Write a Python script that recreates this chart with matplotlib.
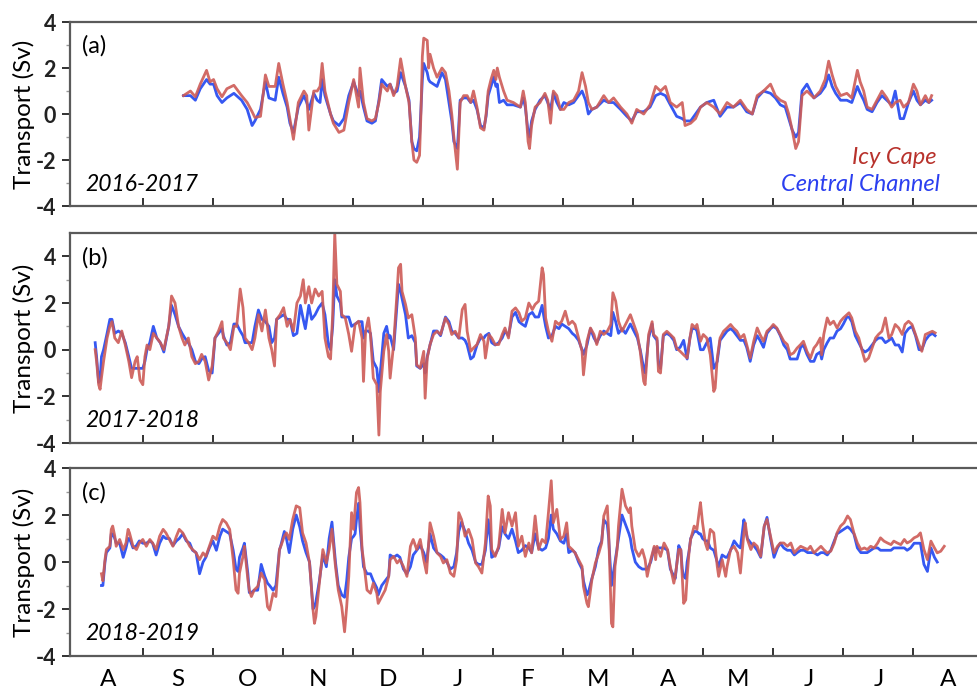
import matplotlib
import numpy as np

matplotlib.use('Agg')
import matplotlib.pyplot as plt

plt.rcParams['font.family'] = ['Lato', 'DejaVu Sans']
plt.rcParams['axes.unicode_minus'] = False

# x positions are in months since 1 Aug (0 = start of Aug, 12 = start of next Aug)
month_labels = ['A', 'S', 'O', 'N', 'D', 'J', 'F', 'M', 'A', 'M', 'J', 'J', 'A']
years = ['2016-2017', '2017-2018', '2018-2019']
panel_tags = ['(a)', '(b)', '(c)']

# ---- 2016-2017 ----
t_a = [1.58, 1.68, 1.75, 1.82, 1.91, 1.96, 2.01, 2.06, 2.13, 2.20, 2.30, 2.41, 2.49, 2.56, 2.60,
       2.68, 2.75, 2.80, 2.89, 2.94, 3.00, 3.06, 3.10, 3.15, 3.22, 3.30, 3.34, 3.37, 3.44, 3.49,
       3.53, 3.56, 3.60, 3.68, 3.72, 3.80, 3.87, 3.94, 4.01, 4.08, 4.10, 4.15, 4.20, 4.27, 4.32,
       4.37, 4.41, 4.49, 4.53, 4.58, 4.63, 4.68, 4.75, 4.80, 4.84, 4.87, 4.91, 4.95, 4.97, 4.99,
       5.01, 5.06, 5.08, 5.10, 5.15, 5.20, 5.27, 5.32, 5.37, 5.41, 5.44, 5.49, 5.51, 5.53, 5.58,
       5.63, 5.68, 5.72, 5.77, 5.82, 5.87, 5.90, 5.93, 5.97, 6.01, 6.04, 6.06, 6.09, 6.15, 6.20,
       6.29, 6.39, 6.43, 6.46, 6.50, 6.52, 6.55, 6.60, 6.67, 6.74, 6.78, 6.82, 6.86, 6.91, 6.96,
       7.01, 7.08, 7.15, 7.22, 7.27, 7.32, 7.36, 7.41, 7.48, 7.58, 7.65, 7.72, 7.82, 7.91, 7.98,
       8.05, 8.15, 8.24, 8.32, 8.39, 8.46, 8.53, 8.62, 8.70, 8.74, 8.82, 8.89, 8.96, 9.05, 9.15,
       9.24, 9.34, 9.43, 9.53, 9.62, 9.70, 9.77, 9.86, 9.96, 10.03, 10.10, 10.17, 10.22, 10.27, 10.32,
       10.36, 10.39, 10.41, 10.48, 10.58, 10.67, 10.74, 10.79, 10.84, 10.89, 10.96, 11.05, 11.12, 11.20, 11.24,
       11.29, 11.34, 11.41, 11.48, 11.55, 11.62, 11.69, 11.74, 11.81, 11.86, 11.93, 12.00, 12.05, 12.10, 12.17,
       12.22, 12.26]
icy_a = [0.8, 1.0, 0.75, 1.3, 1.9, 1.4, 1.5, 1.1, 0.75, 1.1, 1.25, 0.8, 0.5, 0.1, -0.15,
         -0.1, 1.7, 1.2, 1.2, 2.2, 1.3, 0.5, -0.2, -1.1, 0.5, 1.0, 0.8, -0.7, 1.0, 1.0,
         1.2, 2.2, 1.0, 0.0, -0.4, -0.8, -0.7, 0.5, 1.5, 0.3, 2.0, 0.5, -0.2, -0.3, -0.2,
         0.5, 1.3, 1.0, 1.3, 0.8, 1.2, 2.4, 1.2, 0.5, -1.2, -2.0, -2.1, -1.8, 0.0, 2.5,
         3.3, 3.2, 2.0, 2.6, 2.0, 1.6, 2.0, 1.8, 1.0, 0.0, -1.0, -2.4, -1.0, 0.5, 0.8,
         0.8, 0.5, 1.0, 0.3, -0.6, -0.7, 0.0, 1.0, 1.5, 1.9, 1.5, 2.0, 1.6, 1.0, 0.6,
         0.5, 0.3, 1.0, 0.5, -1.2, -1.5, -0.5, 0.3, 0.5, 0.9, 0.6, -0.4, 1.0, 0.8, 0.2,
         0.2, 0.5, 0.6, 1.0, 1.8, 1.2, 0.5, 0.2, 0.3, 0.8, 0.5, 0.7, 0.3, 0.0, -0.4,
         0.2, 0.0, 0.4, 1.2, 1.0, 1.2, 0.5, 0.3, 0.5, -0.5, -0.4, -0.2, 0.3, 0.5, 0.3,
         0.0, 0.5, 0.3, 0.6, 0.2, 0.0, 0.8, 1.0, 1.3, 0.8, 0.6, 0.5, 0.0, -0.7, -1.5,
         -1.2, 0.0, 0.8, 1.0, 0.7, 1.0, 1.5, 2.3, 1.7, 1.2, 0.8, 0.9, 0.7, 1.9, 1.4,
         1.0, 0.3, 0.2, 0.6, 1.0, 0.7, 0.3, 0.5, 0.6, 0.3, 0.5, 1.3, 1.0, 0.4, 0.8,
         0.5, 0.8]
central_a = [0.8, 0.8, 0.6, 1.1, 1.5, 1.3, 1.3, 0.8, 0.5, 0.7, 0.9, 0.6, 0.2, -0.5, -0.3,
             0.2, 1.4, 0.7, 0.6, 1.6, 0.9, 0.3, -0.4, -0.8, 0.3, 0.8, 0.5, 0.2, 0.9, 0.6,
             0.5, 1.5, 0.8, 0.0, -0.3, -0.5, -0.2, 0.8, 1.4, 0.8, 1.0, 0.3, -0.3, -0.4, -0.3,
             0.6, 1.5, 1.2, 1.3, 0.9, 1.0, 1.8, 1.2, 0.6, -1.2, -1.5, -1.6, -1.0, 0.2, 1.5,
             2.2, 1.8, 1.5, 1.4, 1.3, 1.2, 1.8, 1.5, 0.5, -0.3, -1.2, -1.5, -0.5, 0.6, 0.7,
             0.7, 0.5, 0.6, 0.2, -0.5, -0.6, -0.1, 0.8, 1.2, 1.6, 1.2, 1.3, 0.5, 0.6, 0.4,
             0.4, 0.3, 0.7, 0.3, -0.8, -1.0, -0.3, 0.2, 0.6, 0.8, 0.5, 0.2, 0.9, 0.5, 0.2,
             0.5, 0.4, 0.5, 0.8, 1.0, 0.6, 0.0, 0.2, 0.3, 0.6, 0.5, 0.5, 0.2, -0.1, -0.3,
             0.1, 0.1, 0.3, 0.8, 0.9, 0.8, 0.4, -0.1, -0.2, -0.3, -0.3, 0.0, 0.3, 0.5, 0.6,
             -0.1, 0.3, 0.3, 0.5, 0.1, 0.0, 0.7, 1.0, 0.9, 0.7, 0.4, 0.3, -0.2, -0.7, -1.0,
             -0.8, 0.3, 1.0, 1.3, 0.7, 0.9, 1.2, 1.7, 1.2, 0.9, 0.6, 0.6, 0.5, 1.2, 0.9,
             0.6, 0.2, 0.1, 0.5, 0.8, 0.6, 0.4, 1.0, -0.2, -0.2, 0.5, 1.0, 0.6, 0.4, 0.6,
             0.5, 0.6]

# ---- 2017-2018 ----
t_b = [0.32, 0.34, 0.37, 0.39, 0.41, 0.44, 0.49, 0.53, 0.56, 0.60, 0.65, 0.70, 0.75, 0.80, 0.84,
       0.89, 0.92, 0.96, 1.00, 1.03, 1.06, 1.10, 1.15, 1.20, 1.25, 1.30, 1.37, 1.41, 1.46, 1.51,
       1.56, 1.60, 1.65, 1.70, 1.75, 1.80, 1.84, 1.89, 1.94, 1.99, 2.03, 2.08, 2.13, 2.15, 2.20,
       2.25, 2.30, 2.34, 2.39, 2.43, 2.46, 2.51, 2.56, 2.60, 2.65, 2.70, 2.75, 2.80, 2.84, 2.88,
       2.91, 2.96, 3.01, 3.06, 3.10, 3.15, 3.20, 3.25, 3.29, 3.32, 3.37, 3.41, 3.46, 3.51, 3.56,
       3.60, 3.65, 3.68, 3.71, 3.74, 3.77, 3.82, 3.84, 3.89, 3.94, 3.98, 4.03, 4.08, 4.13, 4.15,
       4.18, 4.22, 4.25, 4.29, 4.34, 4.37, 4.39, 4.44, 4.48, 4.51, 4.53, 4.58, 4.63, 4.65, 4.68,
       4.70, 4.75, 4.79, 4.84, 4.89, 4.91, 4.96, 5.01, 5.03, 5.06, 5.10, 5.15, 5.20, 5.25, 5.32,
       5.37, 5.41, 5.46, 5.51, 5.56, 5.60, 5.63, 5.68, 5.72, 5.77, 5.82, 5.87, 5.89, 5.94, 5.98,
       6.03, 6.08, 6.13, 6.17, 6.22, 6.27, 6.32, 6.37, 6.41, 6.46, 6.51, 6.56, 6.60, 6.65, 6.70,
       6.72, 6.75, 6.79, 6.84, 6.89, 6.94, 6.98, 7.03, 7.08, 7.13, 7.17, 7.22, 7.27, 7.29, 7.34,
       7.39, 7.44, 7.48, 7.53, 7.58, 7.63, 7.68, 7.71, 7.75, 7.79, 7.84, 7.89, 7.96, 8.01, 8.06,
       8.10, 8.15, 8.17, 8.22, 8.27, 8.29, 8.34, 8.36, 8.39, 8.43, 8.48, 8.53, 8.58, 8.62, 8.67,
       8.72, 8.77, 8.81, 8.84, 8.89, 8.91, 8.96, 9.00, 9.05, 9.10, 9.15, 9.17, 9.20, 9.24, 9.29,
       9.34, 9.39, 9.43, 9.48, 9.53, 9.58, 9.62, 9.67, 9.72, 9.77, 9.81, 9.86, 9.91, 9.96, 10.00,
       10.05, 10.10, 10.15, 10.20, 10.24, 10.29, 10.34, 10.39, 10.43, 10.48, 10.53, 10.58, 10.62, 10.67, 10.69,
       10.72, 10.77, 10.81, 10.86, 10.91, 10.96, 11.00, 11.05, 11.08, 11.12, 11.17, 11.22, 11.27, 11.31, 11.36,
       11.41, 11.46, 11.50, 11.55, 11.60, 11.65, 11.69, 11.74, 11.79, 11.84, 11.88, 11.93, 11.98, 12.03, 12.08,
       12.12, 12.17, 12.22, 12.27, 12.31]
icy_b = [0.0, -0.5, -1.5, -1.7, -1.2, -0.5, 0.5, 1.0, 1.2, 0.5, 0.3, 0.8, 0.2, -0.5, -1.2,
         -0.5, -0.3, -1.3, -1.5, -0.3, 0.2, 0.0, 0.7, 0.5, 0.3, 0.0, 1.0, 2.3, 2.0, 1.0,
         0.5, 0.2, 0.5, -0.3, -0.6, -0.5, -0.2, -0.5, -1.3, -0.7, 0.5, 0.8, 1.2, 0.5, 0.3,
         0.0, 1.0, 1.0, 2.6, 1.8, 0.5, 0.3, 0.0, 0.5, 1.5, 0.8, 1.7, 0.5, 0.0, -0.7,
         1.3, 1.5, 1.8, 1.0, 1.3, 0.8, 2.0, 2.3, 3.0, 2.0, 2.7, 2.0, 2.6, 2.3, 2.5,
         0.5, -0.3, -0.4, 1.5, 5.0, 2.8, 2.5, 1.5, 1.36, 0.65, -0.07, 1.08, 1.22, 0.5, -1.36,
         0.79, 1.36, 0.65, -1.22, -1.5, -3.66, -1.79, -0.07, 0.65, -0.07, -1.22, 0.22, 2.5, 3.51, 3.66,
         2.5, 1.94, 1.36, 1.5, 0.5, -0.65, -0.79, -0.07, -2.08, -0.36, 0.22, 0.65, 0.79, 0.65, 1.36,
         1.08, 0.65, 0.79, 0.5, 1.72, 1.94, 0.79, -0.07, 0.07, 0.22, 0.65, 0.36, -0.36, 0.65, 0.5,
         0.22, 0.22, 0.65, 0.93, 0.5, 1.65, 1.79, 1.58, 1.22, 1.36, 2.0, 1.72, 1.94, 2.08, 3.51,
         3.23, 1.36, 0.79, 0.36, 1.22, 1.08, 1.22, 1.65, 1.08, 1.22, 1.08, 0.5, -0.07, -1.08, 0.36,
         0.93, 0.65, 0.22, 0.79, 0.65, 0.79, 1.08, 2.44, 2.08, 1.22, 0.79, 1.08, 1.5, 1.08, 0.65,
         -0.07, -1.36, -1.5, 0.65, 1.2, 0.65, 0.5, -0.93, -1.0, 0.65, 0.79, 0.65, 0.5, 0.07, -0.07,
         -0.22, -0.36, 0.5, 1.08, 0.93, 1.08, 0.36, 0.65, 0.5, -0.22, -1.79, -1.65, -0.36, 0.5, 0.79,
         0.93, 1.08, 0.93, 0.79, 0.5, 0.65, 0.22, -0.36, 0.36, 0.93, 0.65, 0.36, 0.79, 0.93, 1.08,
         0.93, 0.65, 0.36, 0.22, -0.22, -0.14, 0.07, 0.22, 0.36, -0.07, -0.36, 0.07, 0.22, 0.5, -0.22,
         0.65, 1.36, 1.08, 1.22, 0.93, 1.22, 1.36, 1.5, 1.58, 1.36, 0.79, 0.5, -0.07, -0.5, -0.36,
         0.07, 0.5, 0.65, 0.79, 1.36, 0.5, 0.65, 1.08, 0.93, 0.65, 1.08, 1.22, 1.08, 0.65, 0.22,
         -0.07, 0.65, 0.72, 0.79, 0.72]
central_b = [0.3, -0.3, -1.4, -1.3, -0.3, 0.0, 0.7, 1.3, 1.3, 0.7, 0.8, 0.7, 0.3, -0.3, -0.8,
             -0.8, -0.8, -0.8, -0.8, -0.5, 0.0, 0.3, 1.0, 0.5, 0.3, -0.1, 1.0, 1.9, 1.5, 1.0,
             0.7, 0.5, 0.3, 0.0, -0.5, -0.6, -0.4, -0.3, -0.9, -1.0, 0.5, 0.7, 0.9, 0.6, 0.2,
             0.3, 1.1, 1.1, 0.8, 0.6, 0.3, 0.3, 0.3, 1.0, 1.7, 1.3, 1.2, 1.0, 0.3, 0.5,
             1.3, 1.4, 1.5, 1.3, 1.3, 0.6, 0.7, 1.9, 1.3, 0.9, 1.9, 1.3, 1.5, 1.8, 2.0,
             1.5, 0.2, 0.0, 1.0, 3.0, 2.3, 2.0, 1.4, 1.4, 1.4, 1.0, 1.1, 1.2, 1.2, 0.5,
             0.8, 0.8, 0.7, -0.5, -0.8, -1.8, -1.0, 0.7, 1.0, 0.5, 0.6, 0.0, 2.0, 2.8, 2.5,
             2.2, 1.5, 0.5, 0.6, 0.3, -0.7, -0.8, -0.6, -1.0, -0.3, 0.2, 0.8, 0.8, 0.6, 1.4,
             1.2, 0.8, 0.7, 0.5, 0.5, 0.4, 0.2, -0.4, -0.3, 0.2, 0.5, 0.5, 0.6, 0.7, 0.3,
             0.2, 0.3, 0.5, 0.8, 0.6, 1.4, 1.6, 1.2, 1.1, 1.0, 1.5, 1.6, 1.4, 1.4, 1.9,
             1.5, 1.0, 0.5, 0.6, 1.0, 0.9, 1.1, 1.0, 0.9, 0.7, 0.6, 0.4, 0.0, -0.2, 0.2,
             0.9, 0.5, 0.3, 0.6, 0.8, 0.7, 0.6, 1.6, 1.2, 0.7, 0.9, 0.7, 1.1, 0.8, 0.5,
             0.0, -0.8, -1.0, 0.5, 1.1, 0.6, 0.4, -0.6, -0.8, 0.6, 0.7, 0.6, 0.4, 0.0, 0.1,
             0.4, -0.4, 0.5, 0.9, 0.9, 0.8, 0.0, 0.0, 0.3, 0.5, -0.8, -0.7, -0.5, 0.4, 0.6,
             0.8, 0.9, 0.8, 0.6, 0.4, 0.4, 0.1, -0.5, 0.2, 0.6, 0.4, 0.1, 0.7, 0.9, 1.0,
             0.9, 0.6, 0.2, 0.0, -0.4, -0.4, -0.4, 0.1, 0.2, -0.2, -0.5, -0.5, -0.2, -0.1, -0.4,
             0.0, 0.3, 0.5, 0.5, 0.8, 0.9, 1.1, 1.4, 1.4, 1.2, 0.6, 0.3, 0.0, -0.1, 0.0,
             0.2, 0.4, 0.5, 0.5, 0.3, 0.4, 0.5, 0.2, 0.2, -0.1, 0.7, 0.9, 1.0, 0.6, 0.0,
             0.0, 0.4, 0.6, 0.7, 0.6]

# ---- 2018-2019 ----
t_c = [0.41, 0.43, 0.46, 0.48, 0.53, 0.55, 0.57, 0.60, 0.62, 0.67, 0.72, 0.76, 0.79, 0.81, 0.86,
       0.91, 0.95, 1.00, 1.05, 1.10, 1.14, 1.19, 1.24, 1.29, 1.33, 1.38, 1.43, 1.48, 1.52, 1.57,
       1.62, 1.67, 1.71, 1.76, 1.81, 1.86, 1.90, 1.95, 2.00, 2.05, 2.10, 2.14, 2.19, 2.24, 2.29,
       2.33, 2.36, 2.38, 2.43, 2.45, 2.50, 2.52, 2.55, 2.59, 2.64, 2.69, 2.74, 2.78, 2.81, 2.86,
       2.90, 2.95, 2.97, 3.02, 3.05, 3.09, 3.14, 3.19, 3.24, 3.28, 3.33, 3.38, 3.43, 3.45, 3.47,
       3.52, 3.57, 3.62, 3.66, 3.70, 3.75, 3.79, 3.84, 3.88, 3.91, 3.94, 3.96, 3.98, 4.01, 4.03,
       4.05, 4.08, 4.10, 4.13, 4.15, 4.20, 4.25, 4.29, 4.34, 4.36, 4.41, 4.46, 4.51, 4.53, 4.58,
       4.63, 4.67, 4.72, 4.77, 4.82, 4.86, 4.91, 4.96, 5.01, 5.05, 5.10, 5.15, 5.20, 5.25, 5.29,
       5.34, 5.39, 5.44, 5.48, 5.51, 5.55, 5.60, 5.65, 5.70, 5.75, 5.79, 5.84, 5.89, 5.93, 5.96,
       5.98, 6.03, 6.08, 6.13, 6.17, 6.22, 6.27, 6.32, 6.36, 6.41, 6.46, 6.51, 6.55, 6.60, 6.65,
       6.70, 6.75, 6.79, 6.83, 6.86, 6.91, 6.96, 7.01, 7.05, 7.08, 7.13, 7.17, 7.22, 7.27, 7.29,
       7.34, 7.36, 7.41, 7.46, 7.51, 7.55, 7.58, 7.63, 7.65, 7.69, 7.71, 7.74, 7.77, 7.79, 7.84,
       7.89, 7.94, 7.96, 7.98, 8.03, 8.08, 8.13, 8.17, 8.20, 8.25, 8.30, 8.32, 8.34, 8.39, 8.44,
       8.49, 8.53, 8.58, 8.60, 8.65, 8.68, 8.70, 8.72, 8.75, 8.77, 8.80, 8.82, 8.87, 8.91, 8.94,
       8.96, 8.99, 9.03, 9.06, 9.10, 9.15, 9.20, 9.22, 9.27, 9.32, 9.34, 9.39, 9.44, 9.49, 9.53,
       9.58, 9.60, 9.63, 9.68, 9.72, 9.77, 9.82, 9.87, 9.91, 9.96, 10.01, 10.06, 10.10, 10.15, 10.20,
       10.25, 10.30, 10.34, 10.39, 10.44, 10.49, 10.53, 10.58, 10.63, 10.68, 10.72, 10.77, 10.82, 10.87, 10.91,
       10.96, 11.01, 11.06, 11.10, 11.15, 11.20, 11.25, 11.30, 11.34, 11.39, 11.44, 11.49, 11.53, 11.58, 11.63,
       11.68, 11.72, 11.77, 11.82, 11.87, 11.91, 11.96, 12.01, 12.06, 12.10, 12.15, 12.20, 12.25, 12.30, 12.34,
       12.39, 12.44]
icy_c = [-0.5, -0.8, 0.1, 0.53, 0.67, 1.39, 1.53, 1.1, 0.67, 0.96, 0.53, 0.81, 1.39, 1.24, 0.67,
         0.53, 0.81, 0.96, 0.67, 0.96, 0.81, 0.53, 1.1, 1.39, 1.24, 0.96, 0.67, 1.1, 1.39, 1.24,
         0.96, 0.67, 0.53, 0.39, 0.1, 0.39, 0.24, 0.67, 1.1, 0.96, 1.53, 1.81, 1.67, 1.39, 0.1,
         -1.19, -1.33, -0.47, 0.24, 0.67, -0.76, -1.19, -1.47, -1.19, -1.04, -0.47, -0.76, -1.9, -2.04, -1.33,
         -1.47, 0.53, 0.67, 1.1, 1.24, 0.96, 1.81, 2.39, 2.31, 1.24, 0.81, -0.04, -2.04, -2.61, -2.33,
         -0.9, 0.53, -0.04, 0.53, 1.4, -0.19, -1.19, -1.9, -2.97, -1.9, -0.61, 0.81, 2.1, 1.39, 2.24,
         2.96, 3.17, 2.53, 0.53, 0.1, -1.19, -1.33, -0.9, -1.33, -1.76, -1.47, -1.19, -0.61, 0.1, 0.24,
         -0.04, 0.1, -0.19, -0.61, 0.67, 0.96, 0.53, 0.96, 0.1, -0.47, 1.67, 1.1, 0.39, 0.24, -0.04,
         0.1, -0.47, -0.61, 0.1, 2.1, 1.81, 1.1, 1.39, 0.96, -0.04, -0.19, -0.47, 0.81, 2.81, 2.39,
         0.53, 0.24, 0.67, 2.24, 1.24, 2.1, 1.53, 2.1, 0.67, 1.1, 0.24, 0.81, 0.39, 1.96, 0.53,
         0.96, 0.81, 2.1, 3.46, 1.67, 2.24, 0.96, 1.1, 1.67, 0.67, 0.53, 0.39, 0.1, -0.19, -1.04,
         -1.76, -1.9, -0.76, -0.04, 0.39, 0.81, 1.96, 2.39, 1.24, -2.61, -2.76, -0.19, 0.53, 1.53, 3.1,
         2.39, 2.1, 2.31, 1.53, 0.53, 0.24, 0.53, 0.1, -0.61, 0.1, 0.67, 0.1, 0.67, 0.24, 0.81,
         0.53, -0.19, -0.9, -0.61, 0.53, 0.53, -0.61, -1.76, -1.61, -0.61, 0.53, 0.96, 1.53, 1.39, 2.1,
         2.53, 1.67, 0.81, 0.53, 1.39, 1.24, -0.19, -0.61, 0.1, -0.61, -0.19, 0.53, 0.67, 0.39, -0.47,
         1.24, 1.67, 0.96, 0.53, 0.81, 0.67, 0.24, 1.53, 1.81, 1.1, 0.39, 0.67, 0.81, 0.81, 0.67,
         0.81, 0.39, 0.53, 0.67, 0.6, 0.53, 0.67, 0.39, 0.53, 0.67, 0.53, 0.39, 0.46, 0.81, 1.24,
         1.53, 1.67, 1.96, 1.81, 1.24, 0.81, 0.53, 0.6, 0.53, 0.67, 0.6, 0.81, 1.03, 0.89, 0.81,
         0.74, 0.89, 0.81, 0.74, 0.96, 0.81, 0.89, 1.03, 1.1, 1.24, 0.53, 0.1, 0.89, 0.6, 0.39,
         0.46, 0.67]
# the Central Channel record stops a few days before the Icy Cape one
central_c = [-1.0, -1.0, 0.0, 0.4, 0.6, 1.2, 1.2, 1.0, 0.8, 0.8, 0.2, 0.6, 1.0, 1.0, 0.6,
             0.7, 0.9, 0.8, 0.8, 0.9, 0.8, 0.3, 0.8, 1.1, 1.0, 1.0, 0.7, 0.9, 1.0, 1.2,
             0.9, 0.8, 0.5, 0.4, -0.5, 0.0, 0.2, 0.6, 0.9, 0.5, 1.1, 1.4, 1.3, 1.2, 0.5,
             -0.3, -0.4, 0.2, 0.6, 0.8, -0.5, -1.3, -1.3, -1.2, -1.2, -0.1, -0.6, -0.9, -1.0, -1.2,
             -1.0, 0.5, 0.7, 1.3, 1.0, 0.4, 1.4, 2.0, 1.5, 0.9, 0.4, 0.0, -2.0, -1.9, -1.7,
             -0.8, 0.3, -0.2, 1.0, 1.7, 0.0, -1.0, -1.4, -1.5, -0.8, 0.2, 0.6, 1.0, 1.1, 1.2,
             1.8, 2.5, 1.5, 0.5, -0.2, -0.5, -0.5, -0.8, -1.1, -1.4, -1.0, -0.8, -0.6, 0.3, 0.2,
             0.3, 0.2, -0.3, -0.5, -0.2, 0.3, 0.5, 0.7, 0.4, 0.0, 1.2, 0.6, 0.4, 0.3, 0.2,
             0.0, -0.3, -0.2, 0.4, 1.3, 1.7, 1.3, 0.8, 0.5, 0.0, -0.1, -0.1, 0.5, 1.8, 1.0,
             0.2, 0.3, 0.6, 1.5, 1.2, 1.0, 1.4, 0.9, 0.4, 0.5, 0.7, 0.6, 0.4, 1.2, 0.6,
             0.5, 0.6, 1.0, 2.0, 1.4, 1.2, 0.9, 0.8, 1.2, 0.4, 0.5, 0.4, 0.0, -0.3, -0.8,
             -1.4, -1.3, -0.7, -0.2, 0.6, 0.9, 1.8, 1.6, 1.0, -1.0, -0.6, 0.0, 0.6, 1.0, 2.0,
             1.6, 1.2, 1.0, 0.6, 0.0, -0.2, -0.3, -0.3, -0.3, 0.0, 0.6, 0.4, 0.6, 0.6, 0.6,
             0.5, -0.3, -0.6, -0.7, 0.7, 0.5, -0.3, -0.6, -0.7, 0.0, 0.5, 1.0, 1.3, 1.3, 1.2,
             1.2, 1.0, 0.9, 0.9, 0.6, 0.5, 0.0, -0.2, 0.3, 0.2, 0.2, 0.5, 0.9, 0.7, 0.6,
             1.8, 1.4, 1.0, 0.8, 0.7, 0.5, 0.2, 1.5, 1.9, 1.0, 0.2, 0.6, 0.8, 0.6, 0.5,
             0.5, 0.3, 0.4, 0.5, 0.5, 0.4, 0.4, 0.4, 0.3, 0.4, 0.4, 0.3, 0.5, 0.9, 1.2,
             1.3, 1.4, 1.5, 1.4, 1.2, 0.6, 0.4, 0.4, 0.4, 0.5, 0.6, 0.6, 0.5, 0.5, 0.5,
             0.5, 0.6, 0.6, 0.6, 0.6, 0.5, 0.6, 0.8, 0.8, 0.8, -0.1, -0.4, 0.6, 0.2, 0.0]

series = [(t_a, icy_a, central_a), (t_b, icy_b, central_b), (t_c, icy_c, central_c)]
ylims = [(-4, 4), (-4, 5), (-4, 4)]
# axes boxes in figure fractions (left, bottom, width, height)
boxes = [(0.0716, 0.7044, 0.9379, 0.2640),
         (0.0716, 0.3644, 0.9379, 0.3013),
         (0.0716, 0.0588, 0.9379, 0.2697)]

red = '#cd5b56'
blue = '#3658f2'

fig = plt.figure(figsize=(9.77, 6.97), dpi=100)
for i, (t, icy, cen) in enumerate(series):
    ax = fig.add_axes(boxes[i])
    ax.plot(t[:len(cen)], cen, color=blue, lw=2.0)
    ax.plot(t, icy, color=red, lw=2.0, alpha=0.9)
    ax.set_xlim(-0.04, 13.04)
    ax.set_ylim(*ylims[i])
    ax.set_yticks([-4, -2, 0, 2, 4])
    ax.set_yticks([v for v in (-3, -1, 1, 3, 5) if v < ylims[i][1]], minor=True)
    ax.set_xticks(range(1, 13))
    ax.set_xticklabels([])
    ax.tick_params(axis='x', direction='in', length=6, width=1.3, colors='#222222')
    ax.tick_params(axis='y', direction='out', length=6, width=1.3, colors='#222222',
                   labelsize=15.5, pad=4)
    ax.tick_params(axis='y', which='minor', direction='out', length=3, width=1.0,
                   colors='#999999')
    for lab in ax.get_yticklabels():
        lab.set_fontweight('bold')
    for sp in ax.spines.values():
        sp.set_color('#5a5a5a')
        sp.set_linewidth(1.6)
    ax.set_ylabel('Transport (Sv)', fontsize=17.5)
    ax.yaxis.set_label_coords(-0.038, 0.5)
    top = ylims[i][1]
    ax.text(0.13, top - 1.05, panel_tags[i], fontsize=17, va='center', ha='left')
    ax.text(0.18, ylims[i][0] + 0.95, years[i], fontsize=16.5, style='italic',
            va='center', ha='left')
    if i == 0:
        ax.text(12.33, -1.9, 'Icy Cape', color='#b8322c', fontsize=17, style='italic',
                ha='right', va='center')
        ax.text(12.38, -3.05, 'Central Channel', color='#2b3ff0', fontsize=17, style='italic',
                ha='right', va='center')
    if i == 2:
        # month initials sit mid-month, ticks mark the month boundaries
        ax.set_xticks(np.arange(13) + 0.5, minor=True)
        ax.set_xticklabels(month_labels, minor=True)
        ax.tick_params(axis='x', which='minor', length=0, labelsize=17.5, pad=9)

fig.savefig('out.png', dpi=100)
